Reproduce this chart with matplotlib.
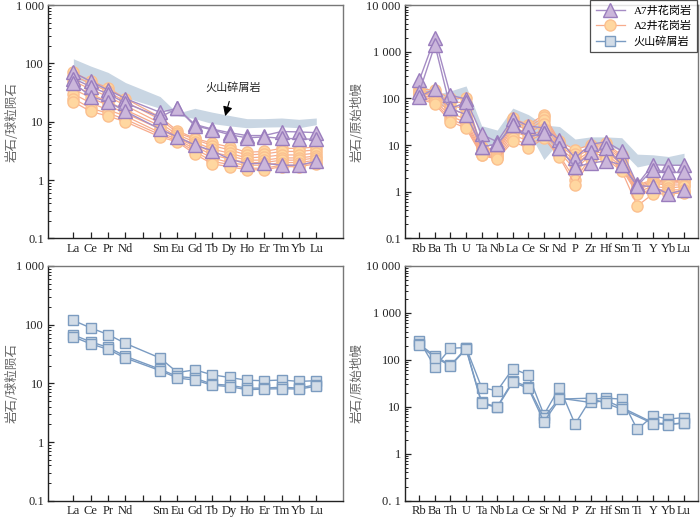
import matplotlib
matplotlib.use('Agg')
import matplotlib.pyplot as plt
import matplotlib.ticker as mticker
import numpy as np

nan = np.nan

plt.rcParams['font.family'] = ['Liberation Serif', 'Noto Sans CJK SC', 'DejaVu Sans']

# ---------------- REE (chondrite normalised) ----------------
ree_labels = ['La', 'Ce', 'Pr', 'Nd', '', 'Sm', 'Eu', 'Gd', 'Tb', 'Dy', 'Ho', 'Er', 'Tm', 'Yb', 'Lu']
ree_pos = [1, 2, 3, 4, 6, 7, 8, 9, 10, 11, 12, 13, 14, 15]   # Pm slot left empty

a7_ree = [
    [70, 49, 35, 25, 14.5, 17, 9.0, 7.5, 6.5, 5.8, 5.8, 6.8, 6.7, 6.5],
    [55, 40, 30, 21, 12.0, 17, 8.5, 7.3, 6.0, 5.3, 5.5, 5.2, 5.1, 5.0],
    [47, 27, 22, 15, 7.5, 5.5, 4.0, 3.2, 2.3, 1.9, 1.95, 1.8, 1.8, 2.1],
]
a2_ree = [
    [70, 50, 38, 25, 12.0, 7.0, 5.2, 4.3, 3.7, 3.0, 3.1, 3.5, 3.5, 3.7],
    [62, 45, 33, 22, 11.0, 6.5, 5.0, 3.9, 3.3, 2.7, 2.8, 3.1, 3.1, 3.3],
    [50, 36, 27, 19, 9.5, 6.0, 4.5, 3.4, 2.9, 2.4, 2.5, 2.7, 2.7, 2.9],
    [42, 30, 22, 16, 8.5, 5.5, 4.1, 3.0, 2.6, 2.2, 2.2, 2.4, 2.4, 2.6],
    [36, 26, 19, 14, 7.5, 5.2, 3.8, 2.7, 2.3, 2.0, 2.0, 2.2, 2.2, 2.4],
    [30, 21, 16, 12.5, 6.5, 5.0, 3.4, 2.4, 2.0, 1.8, 1.8, 2.0, 2.0, 2.2],
    [25, 17, 14, 11, 6.0, 4.7, 3.1, 2.1, 1.85, 1.6, 1.6, 1.8, 1.8, 2.0],
    [22, 15, 12.5, 10, 5.5, 4.5, 2.8, 1.9, 1.7, 1.5, 1.5, 1.7, 1.7, 1.9],
]
vol_ree = [
    [118, 88, 68, 48, 27, 15.3, 17, 14, 12.6, 11.3, 11.1, 11.4, 10.8, 11.1],
    [67, 51, 41, 29, 17.4, 13.1, 12.3, 9.7, 9.3, 8.3, 8.3, 8.6, 8.3, 9.5],
    [62, 47, 38, 27, 16.5, 12.3, 11.4, 9.3, 8.8, 7.8, 8.0, 8.1, 8.0, 8.9],
]
band_ree_hi = [120, 90, 70, 47, 27, 14.0, 17, 14.6, 12.8, 11.3, 11.3, 11.6, 11.0, 11.6]
band_ree_lo = [57, 44, 35, 26, 17, 12.8, 11.3, 9.3, 8.5, 7.9, 8.1, 8.2, 7.9, 8.9]

# ---------------- spider (primitive mantle normalised) ----------------
sp_labels = ['Rb', 'Ba', 'Th', 'U', 'Ta', 'Nb', 'La', 'Ce', 'Sr', 'Nd', 'P', 'Zr',
             'Hf', 'Sm', 'Ti', 'Y', 'Yb', 'Lu']
sp_pos = list(range(1, 19))

a7_sp = [
    [247, 1990, 117, 97, 16.9, 11.8, 37, 25.7, 23.3, 12.8, 5.3, 10.4, 11.8, 7.5, 1.44, 3.8, 3.7, 3.7],
    [138, 1400, 61, 82, 9.3, 10.4, 26.6, 15.1, 17.8, 8.6, 3.4, 7.0, 8.6, 3.8, 1.35, 3.0, 2.6, 2.6],
    [108, 162, 61, 45, 9.3, 10.4, 26.6, 15.1, 17.8, 8.6, 3.4, 4.1, 4.6, 3.8, 1.35, 1.3, 0.9, 1.1],
]
a2_sp = [
    [160, 150, 100, 100, 9.0, 8.0, 38, 27, 45, 12, 8.0, 10, 11, 6.0, 1.4, 1.8, 1.7, 1.8],
    [150, 130, 85, 80, 8.5, 7.5, 33, 24, 40, 11, 6.5, 9.0, 10, 5.5, 1.3, 1.7, 1.6, 1.7],
    [140, 120, 70, 60, 8.0, 7.0, 28, 21, 35, 10, 5.5, 8.3, 9.0, 5.0, 1.2, 1.6, 1.5, 1.6],
    [130, 110, 60, 45, 7.5, 6.5, 24, 18, 28, 9.0, 4.5, 7.5, 8.0, 4.5, 1.1, 1.5, 1.4, 1.4],
    [120, 100, 50, 35, 7.0, 6.0, 20, 15, 22, 8.0, 3.8, 7.0, 7.0, 4.0, 1.0, 1.3, 1.2, 1.3],
    [115, 90, 42, 30, 6.5, 5.5, 17, 12, 18, 7.0, 3.0, 6.2, 6.3, 3.5, 0.95, 1.1, 1.1, 1.1],
    [108, 82, 36, 26, 6.2, 5.2, 14, 10, 15, 6.0, 1.8, 5.5, 5.6, 3.1, 0.9, 1.0, 1.0, 1.0],
    [100, 75, 32, 23, 6.0, 5.0, 12, 8.5, 14, 5.5, 1.4, 5.0, 5.0, 2.8, 0.5, 0.9, 0.9, 0.95],
]
vol_sp = [
    [253, 71, 177, 183, 25.8, 21.9, 65, 48, 6.8, 25.8, 4.3, 14.6, 15.3, 14.6, 3.3, 6.4, 5.5, 5.9],
    [215, 122, 77, 177, 12.4, 10.0, 35.7, 26.6, 5.9, 15.3, nan, 12.4, 13.5, 9.7, nan, 4.6, 4.3, 4.5],
    [205, 112, 75, 169, 11.8, 9.7, 33, 25, 4.8, 14.6, nan, 15.3, 11.8, 8.9, nan, 4.4, 4.2, 4.5],
]
band_sp_hi = [240, 120, 145, 185, 26, 21, 62, 45, 27, 25, 13.5, 15, 15, 14.4, 6.4, 6.2, 5.7, 6.7]
band_sp_lo = [200, 70, 65, 140, 12, 9, 30, 20, 4.9, 12, 8.6, 10, 10, 7.5, 3.4, 4.0, 3.8, 3.8]

# ---------------- styles ----------------
tri = dict(marker='^', ms=10, color='#a58cc4', mfc='#cbb6db', mec='#9a7dbd', lw=1.0, mew=1.0)
cir = dict(marker='o', ms=8, color='#f7ab8c', mfc='#ffd7a0', mec='#fbc08f', lw=0.9, mew=1.0)
sqr = dict(marker='s', ms=7.5, color='#7a9bc2', mfc='#d2dce7', mec='#7c9cc0', lw=1.0, mew=1.0)
band_color = '#c9d6e3'
ylab_color = '#666666'
tick_fs = 9


def plot_series(ax, xpos, rows, style, label=None):
    for i, row in enumerate(rows):
        y = np.array(row, dtype=float)
        x = np.array(xpos, dtype=float)
        ok = ~np.isnan(y)
        ax.plot(x[ok], y[ok], label=label if i == 0 else None, **style)


def style_axes(ax, ticks, labels, xlim, ylim, ylabel, labels_y, label_x):
    ax.set_yscale('log')
    ax.set_xlim(*xlim)
    ax.set_ylim(*ylim)
    ax.set_xticks(ticks)
    ax.set_xticklabels(labels, fontsize=tick_fs)
    ax.yaxis.set_major_locator(mticker.FixedLocator(list(labels_y.keys())))
    ax.yaxis.set_major_formatter(mticker.FixedFormatter(list(labels_y.values())))
    ax.yaxis.set_minor_locator(mticker.LogLocator(base=10, subs=np.arange(2, 10)))
    ax.yaxis.set_minor_formatter(mticker.NullFormatter())
    ax.tick_params(axis='both', which='major', direction='in', length=4, width=0.9,
                   colors='#222222', labelsize=tick_fs, pad=3)
    ax.tick_params(axis='y', which='minor', direction='in', length=2.5, width=0.7, colors='#222222')
    ax.tick_params(axis='x', which='minor', bottom=False)
    for s in ['left', 'bottom']:
        ax.spines[s].set_color('#222222')
        ax.spines[s].set_linewidth(1.0)
    for s in ['top', 'right']:
        ax.spines[s].set_color('#777777')
        ax.spines[s].set_linewidth(1.0)
    ax.set_ylabel(ylabel, color=ylab_color, fontsize=9, family=['Noto Sans CJK SC'])
    ax.yaxis.set_label_coords(label_x, 0.5)


ree_ticks = list(range(1, 16))
ree_ylabels = {0.1: '0.1', 1: '1', 10: '10', 100: '100', 1000: '1 000'}
sp_ylabels = {0.1: '0.1', 1: '1', 10: '10', 100: '100', 1000: '1 000', 10000: '10 000'}
sp_ylabels2 = {0.1: '0. 1', 1: '1', 10: '10', 100: '100', 1000: '1 000', 10000: '10 000'}

fig = plt.figure(figsize=(7.0, 5.17), dpi=100)
ax1 = fig.add_axes([0.0686, 0.5387, 0.4214, 0.4516])
ax2 = fig.add_axes([0.5786, 0.5387, 0.4186, 0.4516])
ax3 = fig.add_axes([0.0686, 0.0315, 0.4214, 0.4540])
ax4 = fig.add_axes([0.5786, 0.0315, 0.4186, 0.4540])

# top-left: granite REE with volcanic envelope
ax1.fill_between(ree_pos, band_ree_lo, band_ree_hi, color=band_color, lw=0, zorder=1)
plot_series(ax1, ree_pos, a2_ree, cir)
plot_series(ax1, ree_pos, a7_ree, tri)
style_axes(ax1, ree_ticks, ree_labels, (-0.46, 16.54), (0.1, 1000), '岩石/球粒陨石',
           ree_ylabels, -0.10)
ax1.annotate('火山碎屑岩', xy=(9.75, 12.5), xytext=(10.2, 38), ha='center', va='center',
             fontsize=8, family=['Noto Sans CJK SC'], color='#222222',
             arrowprops=dict(arrowstyle='-|>,head_length=0.7,head_width=0.35',
                             color='black', lw=0.8, shrinkA=4, shrinkB=0))

# top-right: granite spider with volcanic envelope
ax2.fill_between(sp_pos, band_sp_lo, band_sp_hi, color=band_color, lw=0, zorder=1)
plot_series(ax2, sp_pos, a2_sp, cir, label='A2井花岗岩')
plot_series(ax2, sp_pos, a7_sp, tri, label='A7井花岗岩')
ax2.plot([], [], label='火山碎屑岩', **sqr)
style_axes(ax2, sp_pos, sp_labels, (0.08, 18.9), (0.1, 10000), '岩石/原始地幔',
           sp_ylabels, -0.14)
h, l = ax2.get_legend_handles_labels()
order = [l.index('A7井花岗岩'), l.index('A2井花岗岩'), l.index('火山碎屑岩')]
leg = ax2.legend([h[i] for i in order], [l[i] for i in order], loc='upper right',
                 bbox_to_anchor=(0.997, 1.02), fontsize=8, frameon=True, fancybox=False,
                 edgecolor='#222222', handlelength=2.6, borderpad=0.5, labelspacing=0.45,
                 borderaxespad=0.0)
leg.get_frame().set_linewidth(0.9)

# bottom-left: volcanic REE
plot_series(ax3, ree_pos, vol_ree, sqr)
style_axes(ax3, ree_ticks, ree_labels, (-0.46, 16.54), (0.1, 1000), '岩石/球粒陨石',
           ree_ylabels, -0.10)

# bottom-right: volcanic spider
plot_series(ax4, sp_pos, vol_sp, sqr)
style_axes(ax4, sp_pos, sp_labels, (0.08, 18.9), (0.1, 10000), '岩石/原始地幔',
           sp_ylabels2, -0.14)

fig.savefig('out.png', dpi=100)
